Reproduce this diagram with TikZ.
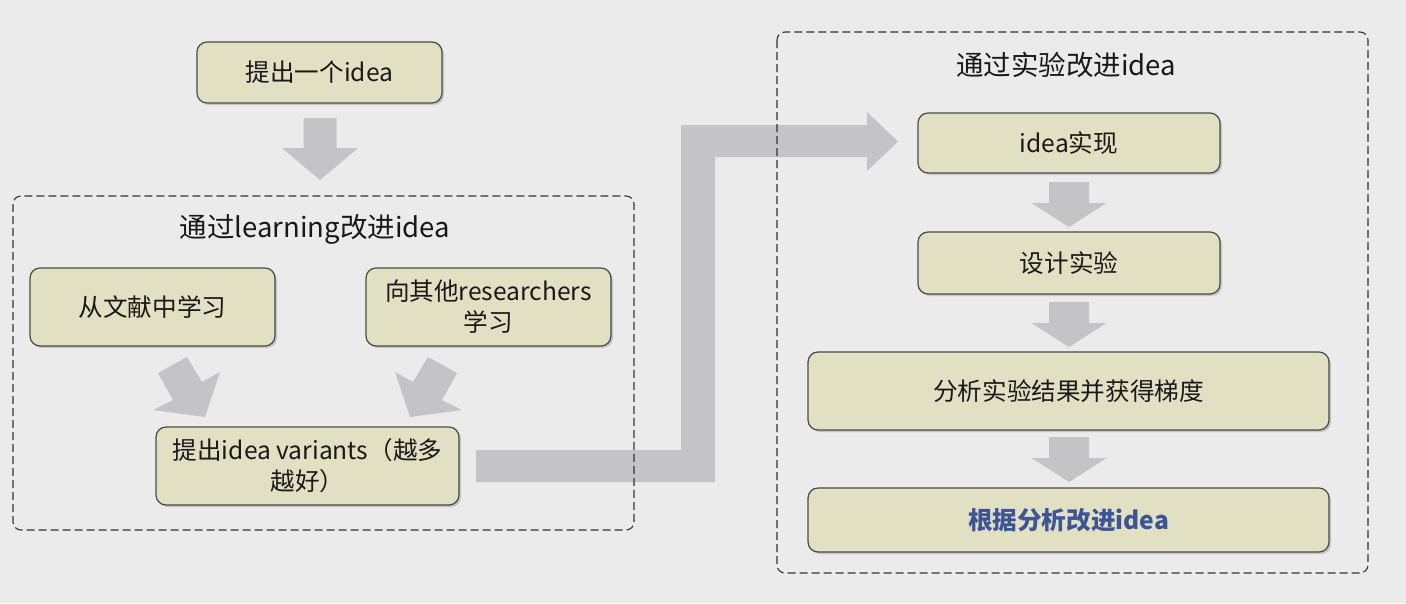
\documentclass[tikz,border=0pt]{standalone}
\usepackage{fontspec}
\setmainfont{Noto Sans CJK SC}
\usetikzlibrary{shadows}
\definecolor{bg}{HTML}{EBEBEB}
\definecolor{boxfill}{HTML}{E2E0C3}
\definecolor{boxline}{HTML}{4A4A4A}
\definecolor{arrowgray}{HTML}{C4C3C5}
\definecolor{bluetext}{HTML}{3D5597}
\tikzset{
  box/.style={draw=boxline, line width=1.2pt, fill=boxfill, rounded corners=10pt,
    drop shadow={shadow xshift=2pt, shadow yshift=-2pt, opacity=0.35},
    font=\fontsize{24.6}{31}\selectfont, align=center, inner sep=0pt, text=black!90},
  group/.style={draw=black!80, line width=1.1pt, dash pattern=on 8pt off 4pt, rounded corners=8pt},
  titletext/.style={font=\fontsize{27.5}{32}\selectfont, text=black!90},
  blockarrow/.style={fill=arrowgray}
}
\newcommand\dnarrow[6]{%
  \fill[blockarrow] (#1-#3,#2) -- (#1+#3,#2) -- (#1+#3,#5) -- (#1+#4,#5) -- (#1,#6) -- (#1-#4,#5) -- (#1-#3,#5) -- cycle;}
\begin{document}
\begin{tikzpicture}[x=1pt,y=-1pt]
\fill[bg] (0,0) rectangle (1406,603);
\useasboundingbox (0,0) rectangle (1406,603);

% block arrows
\dnarrow{320}{118}{16.5}{38}{148}{180}
\fill[blockarrow] (158,373) -- (187,357) -- (202,382) -- (220,372) -- (205,417) -- (153,410) -- (173,400) -- cycle;
\fill[blockarrow] (457,373) -- (428,357) -- (413,382) -- (395,372) -- (410,417) -- (462,410) -- (442,400) -- cycle;
\fill[blockarrow] (476,450) -- (681,450) -- (681,125) -- (867,125) -- (867,112) -- (898,141.5) -- (867,171) -- (867,157) -- (715,157) -- (715,482) -- (476,482) -- cycle;
\dnarrow{1069}{182}{20}{37.5}{203}{227}
\dnarrow{1069}{302}{20}{37.5}{323}{347}
\dnarrow{1069}{437}{20}{37.5}{458}{482}

% groups
\draw[group] (13,196) rectangle (634,530);
\draw[group] (777,32) rectangle (1368,573);
\node[titletext] (t1) at (315,229) {通过learning改进idea};
\node[titletext] (t2) at (1066,65) {通过实验改进idea};

% boxes
\node[box, minimum width=245pt, minimum height=61pt] (A) at (319.5,72.5) {提出一个idea};
\node[box, minimum width=245pt, minimum height=78pt] (B) at (152.5,307) {从文献中学习};
\node[box, minimum width=245pt, minimum height=78pt] (C) at (488.5,307) {向其他researchers\\学习};
\node[box, minimum width=303pt, minimum height=78pt] (D) at (307.5,466) {提出idea variants（越多\\越好）};
\node[box, minimum width=302pt, minimum height=60pt] (E) at (1069,143) {idea实现};
\node[box, minimum width=302pt, minimum height=62pt] (F) at (1069,263) {设计实验};
\node[box, minimum width=521pt, minimum height=78pt] (G) at (1068.5,391) {分析实验结果并获得梯度};
\node[box, minimum width=521pt, minimum height=64pt, text=bluetext] (H) at (1068.5,520) {\bfseries 根据分析改进idea};
\end{tikzpicture}
\end{document}
